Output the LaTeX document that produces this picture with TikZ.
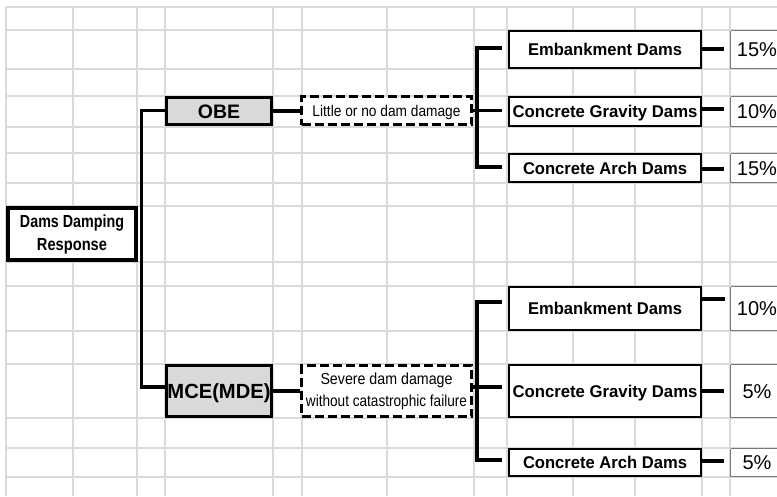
\documentclass[tikz,border=0pt]{standalone}
\usepackage{fontspec}
\setmainfont{Liberation Sans}
\usepackage{graphicx}
\definecolor{gridc}{RGB}{218,218,218}
\definecolor{boxgray}{RGB}{217,217,217}
\definecolor{dotc}{RGB}{120,120,120}
\begin{document}
\begin{tikzpicture}[x=1pt,y=-1pt,
  gridline/.style={draw=gridc, line width=1.5pt},
  conn/.style={draw=black, line width=3.5pt},
  rootbox/.style={draw, line width=4pt, fill=white, inner sep=0pt, align=center,
    font={\fontsize{17.5}{23}\selectfont\bfseries}},
  catbox/.style={draw, line width=3pt, fill=boxgray, inner sep=0pt,
    minimum width=105pt, text height=14pt, text depth=0pt},
  dashbox/.style={draw, line width=3pt, dash pattern=on 9pt off 4pt, fill=white,
    inner sep=0pt, minimum width=170pt, align=center},
  dambox/.style={draw, line width=2.3pt, fill=white, inner sep=0pt,
    minimum width=192pt, text height=12.2pt, text depth=0pt,
    font={\fontsize{17}{19}\selectfont\bfseries}},
  pctbox/.style={draw=dotc, line width=0.8pt, dash pattern=on 0.5pt off 0.5pt,
    fill=white, inner sep=0pt, minimum width=54pt, text height=14.3pt,
    text depth=0pt, font={\fontsize{20}{24}\selectfont}}
]
\useasboundingbox (0,0) rectangle (777,496);
\clip (0,0) rectangle (777,496);
\fill[white] (0,0) rectangle (777,496);
% spreadsheet grid
\foreach \x in {6,73,137,165,273,302,387,474,507,573,635,702,730}
  \draw[gridline] (\x,7) -- (\x,496);
\foreach \y in {7,30,69,96,127,153,183,206,262,286,331,364,418,448,477}
  \draw[gridline] (6,\y) -- (777,\y);

% root
\node[rootbox, minimum width=128pt, minimum height=52pt] (root) at (72,234)
  {\resizebox{104pt}{\height}{Dams Damping}\\\resizebox{70pt}{\height}{Response}};
% categories
\node[catbox, minimum height=27pt, font={\fontsize{19.5}{22}\selectfont\bfseries}]
  (obe) at (219,111) {OBE};
\node[catbox, minimum height=51pt, font={\fontsize{20.5}{22}\selectfont\bfseries}]
  (mce) at (219,391) {\resizebox{103pt}{\height}{MCE(MDE)}};
% damage descriptions
\node[dashbox, minimum height=28pt, text height=11pt, text depth=0pt,
  font={\fontsize{15.5}{18}\selectfont}] (dash1) at (386.5,110.5)
  {\resizebox{148pt}{\height}{Little or no dam damage}};
\node[dashbox, minimum height=51pt, font={\fontsize{16}{22}\selectfont}]
  (dash2) at (386.5,391)
  {\resizebox{132pt}{\height}{Severe dam damage}\\
   \resizebox{161pt}{\height}{without catastrophic failure}};
% dam types (OBE)
\node[dambox, minimum height=37pt] (emb1) at (605,49.5)
  {\resizebox{154pt}{\height}{Embankment Dams}};
\node[dambox, minimum height=29pt] (grav1) at (605,111.5)
  {\resizebox{185pt}{\height}{Concrete Gravity Dams}};
\node[dambox, minimum height=28pt] (arch1) at (605,168)
  {\resizebox{164pt}{\height}{Concrete Arch Dams}};
% dam types (MCE)
\node[dambox, minimum height=43pt] (emb2) at (605,308.5)
  {\resizebox{154pt}{\height}{Embankment Dams}};
\node[dambox, minimum height=52pt] (grav2) at (605,391)
  {\resizebox{185pt}{\height}{Concrete Gravity Dams}};
\node[dambox, minimum height=27pt] (arch2) at (605,462.5)
  {\resizebox{164pt}{\height}{Concrete Arch Dams}};
% damping values
\node[pctbox, minimum height=38pt] (p1) at (757,49.5) {15\%};
\node[pctbox, minimum height=30pt] (p2) at (757,111.5) {10\%};
\node[pctbox, minimum height=29pt] (p3) at (757,168) {15\%};
\node[pctbox, minimum height=44pt] (p4) at (757,308.5) {10\%};
\node[pctbox, minimum height=53pt] (p5) at (757,391) {5\%};
\node[pctbox, minimum height=28pt] (p6) at (757,462.5) {5\%};

% connector helper coordinates
\coordinate (trunk) at ([xshift=3.5pt]root.east);
\coordinate (br1) at (477,110);
\coordinate (br2) at (477,387);
\coordinate (e1) at ([xshift=-6pt,yshift=1.5pt]emb1.west);
\coordinate (g1) at ([xshift=-6pt,yshift=0pt]grav1.west);
\coordinate (a1) at ([xshift=-6pt,yshift=1pt]arch1.west);
\coordinate (e2) at ([xshift=-6pt,yshift=6.5pt]emb2.west);
\coordinate (g2) at ([xshift=-6pt,yshift=4pt]grav2.west);
\coordinate (a2) at ([xshift=-6pt,yshift=2.5pt]arch2.west);

% root to categories
\draw[conn] ([yshift=0.5pt]obe.west) -| (trunk) |- ([yshift=4pt]mce.west);
% categories to descriptions
\draw[conn] (obe.east) -- (dash1.west |- obe.east);
\draw[conn] (mce.east) -- (dash2.west |- mce.east);
% brackets
\draw[conn] (e1) -| (br1) |- (a1);
\draw[conn] (dash1.east) -- (g1 |- dash1.east);
\draw[conn] (e2) -| (br2) |- (a2);
\draw[conn] (dash2.east |- g2) -- (g2);
% dam types to values
\draw[conn] ([yshift=0.5pt]emb1.east) -- ([xshift=-6pt,yshift=0.5pt]p1.west);
\draw[conn] ([yshift=2.5pt]grav1.east) -- ([xshift=-6pt,yshift=2.5pt]p2.west);
\draw[conn] ([yshift=-1pt]arch1.east) -- ([xshift=-6pt,yshift=-1pt]p3.west);
\draw[conn] ([yshift=9.5pt]emb2.east) -- ([xshift=-5pt,yshift=9.5pt]p4.west);
\draw[conn] (grav2.east) -- ([xshift=-6pt]p5.west);
\draw[conn] ([yshift=1.5pt]arch2.east) -- ([xshift=-6pt,yshift=1.5pt]p6.west);
\end{tikzpicture}
\end{document}
